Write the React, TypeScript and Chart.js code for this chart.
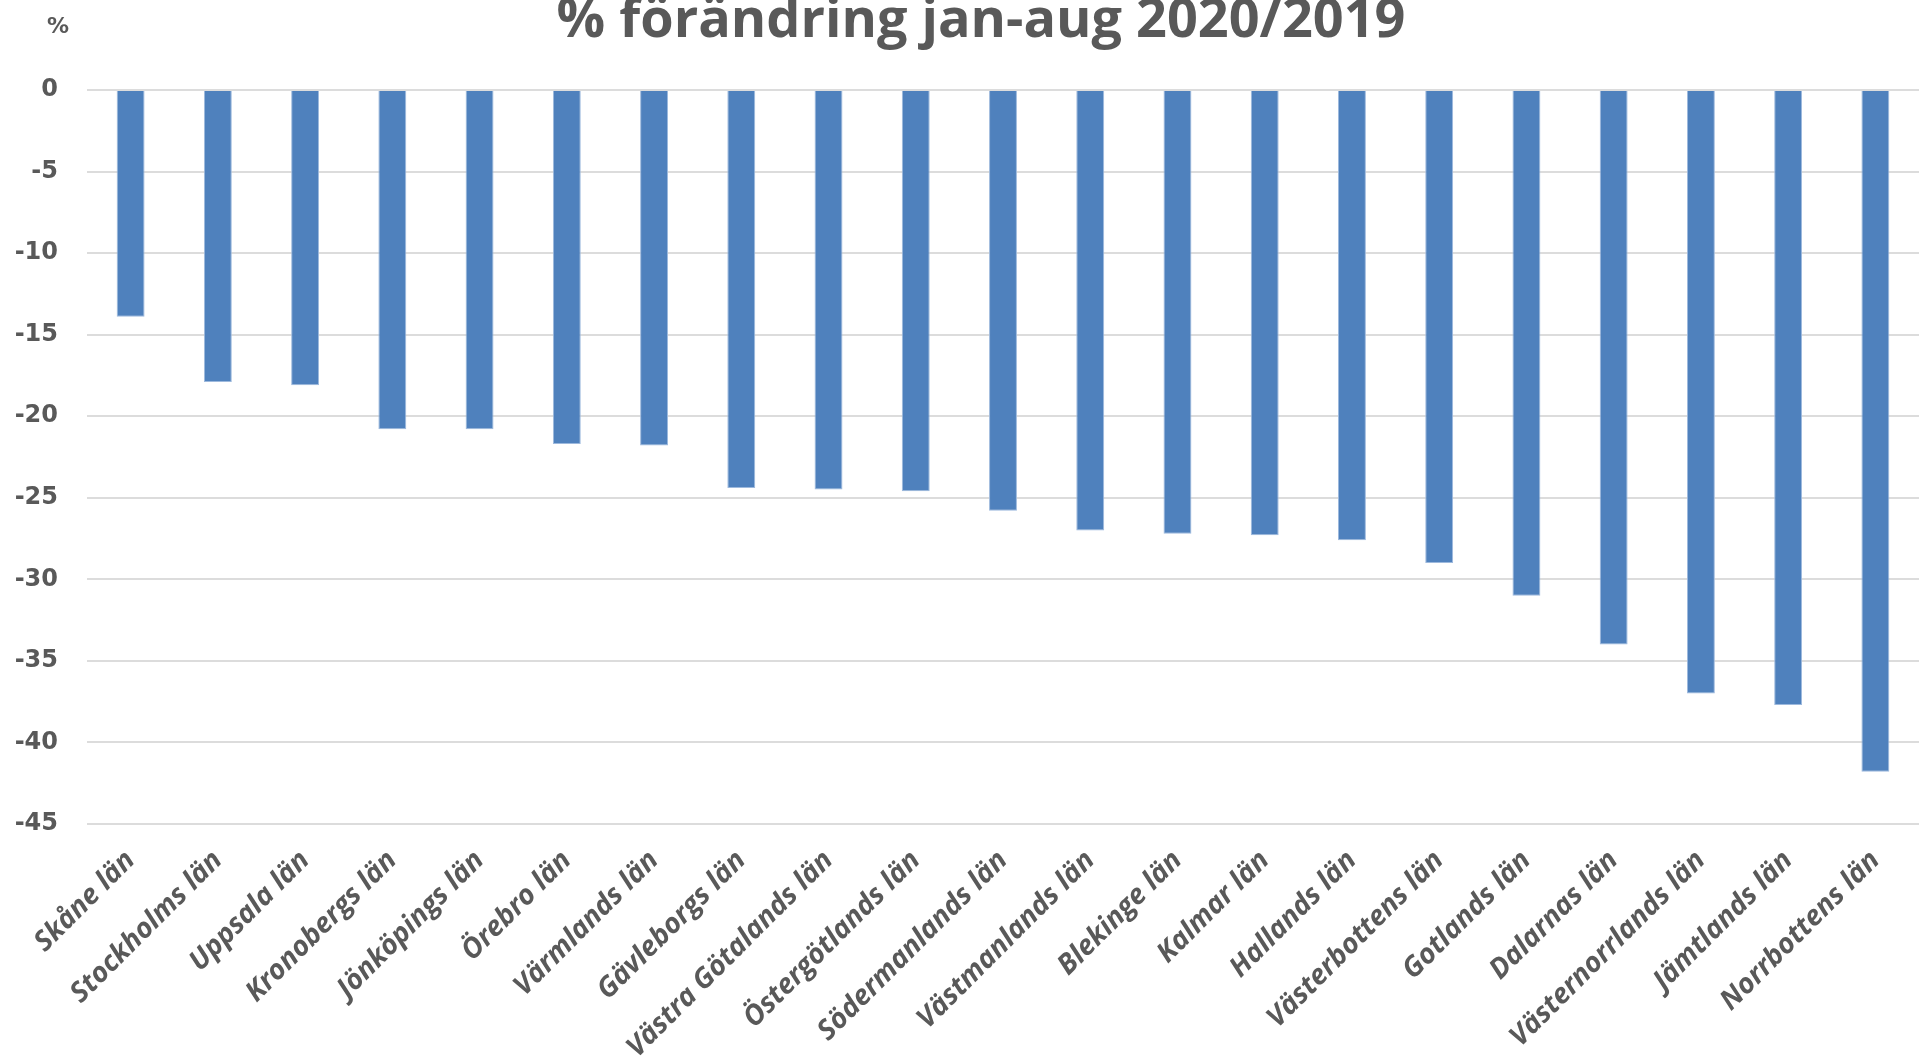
import React, { useEffect, useRef } from "react";
import { Chart, registerables } from "chart.js";

Chart.register(...registerables);

const titleText = "% förändring jan-aug 2020/2019";
const unitLabel = "%";

const categories = [
  "Skåne län",
  "Stockholms län",
  "Uppsala län",
  "Kronobergs län",
  "Jönköpings län",
  "Örebro län",
  "Värmlands län",
  "Gävleborgs län",
  "Västra Götalands län",
  "Östergötlands län",
  "Södermanlands län",
  "Västmanlands län",
  "Blekinge län",
  "Kalmar län",
  "Hallands län",
  "Västerbottens län",
  "Gotlands län",
  "Dalarnas län",
  "Västernorrlands län",
  "Jämtlands län",
  "Norrbottens län",
];

const changePct = [
  -13.9, -17.9, -18.1, -20.8, -20.8, -21.7, -21.8, -24.4, -24.5, -24.6, -25.8,
  -27.0, -27.2, -27.3, -27.6, -29.0, -31.0, -34.0, -37.0, -37.7, -41.8,
];

const yMin = -45;
const yMax = 0;
const yStep = 5;

const TEXT = "#595959";
const BAR = "#4F81BD";
const GRID = "#DCDCDC";

// Draws the chart title (slightly right of canvas centre, as in the original)
// and the "%" unit label above the y-axis tick labels.
const headerPlugin = {
  id: "headerLabels",
  afterDraw(chart: any) {
    const ctx = chart.ctx;
    const area = chart.chartArea;
    ctx.save();
    ctx.fillStyle = TEXT;
    ctx.textAlign = "center";
    ctx.textBaseline = "middle";
    ctx.font = 'bold 54px "Open Sans"';
    ctx.fillText(titleText, (area.left + area.right) / 2 - 22, 22);
    ctx.font = 'bold 22px "DejaVu Sans"';
    ctx.fillText(unitLabel, area.left - 29, 27);
    ctx.restore();
  },
};

export default function App() {
  const ref = useRef<HTMLCanvasElement | null>(null);

  useEffect(() => {
    if (!ref.current) return;
    const chart = new Chart(ref.current, {
      type: "bar",
      data: {
        labels: categories,
        datasets: [
          {
            data: changePct,
            backgroundColor: BAR,
            borderColor: "#9DB9DD",
            borderWidth: 1,
            categoryPercentage: 1,
            barPercentage: 0.32,
          },
        ],
      },
      plugins: [headerPlugin],
      options: {
        responsive: false,
        animation: false,
        devicePixelRatio: 1,
        layout: { padding: { left: 0, right: 10, top: 90, bottom: 0 } },
        plugins: {
          legend: { display: false },
          tooltip: { enabled: false },
          title: { display: false },
        },
        scales: {
          x: {
            grid: { display: false, drawTicks: false },
            border: { display: false },
            ticks: {
              color: TEXT,
              font: { family: "'Open Sans'", size: 28, weight: "bold", style: "italic" },
              minRotation: 45,
              maxRotation: 45,
              padding: 20,
              autoSkip: false,
            },
            afterFit(scale: any) {
              scale.height = 235;
            },
          },
          y: {
            min: yMin,
            max: yMax,
            grid: { color: GRID, lineWidth: 2, drawTicks: false },
            border: { display: false },
            ticks: {
              stepSize: yStep,
              color: TEXT,
              font: { family: "'DejaVu Sans'", size: 24, weight: "bold" },
              padding: 29,
            },
            afterFit(scale: any) {
              scale.width = 87;
            },
          },
        },
      },
    });
    return () => chart.destroy();
  }, []);

  return (
    <div style={{ position: "fixed", left: 0, top: 0, width: 1929, height: 1059, background: "#fff" }}>
      <canvas ref={ref} width={1929} height={1059} />
    </div>
  );
}
